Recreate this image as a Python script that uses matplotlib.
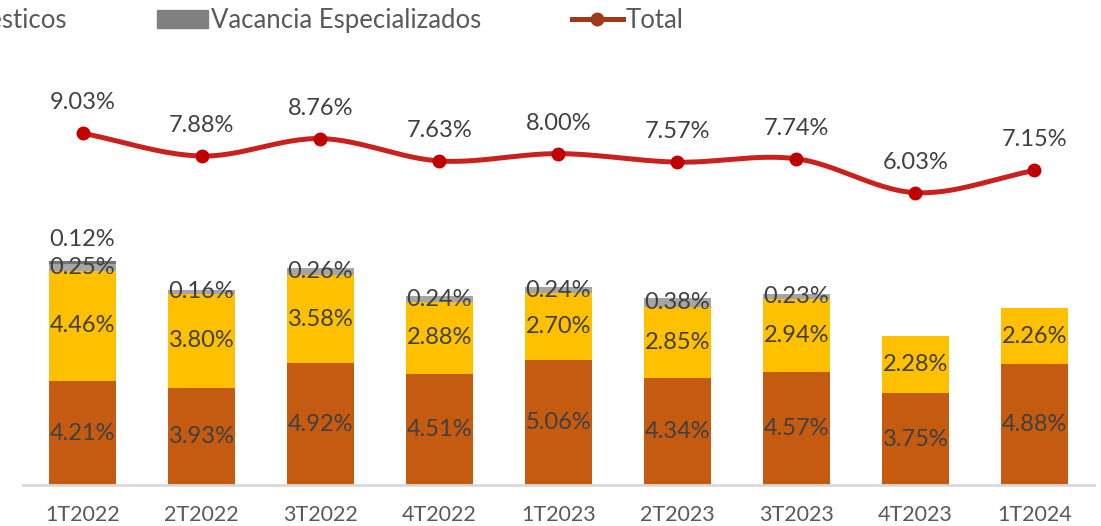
import numpy as np
import matplotlib
matplotlib.use("Agg")
from matplotlib import pyplot as plt
from matplotlib.patches import Patch
from matplotlib.lines import Line2D

plt.rcParams['font.family'] = ['Lato', 'DejaVu Sans']

cats = ["1T2022", "2T2022", "3T2022", "4T2022", "1T2023",
        "2T2023", "3T2023", "4T2023", "1T2024"]
orange = [4.21, 3.93, 4.92, 4.51, 5.06, 4.34, 4.57, 3.75, 4.88]
yellow = [4.46, 3.80, 3.58, 2.88, 2.70, 2.85, 2.94, 2.28, 2.26]
lgray = [0.25, 0.16, 0.26, 0.24, 0.24, 0.38, 0.23, 0.0, 0.0]
dgray = [0.12, 0, 0, 0, 0, 0, 0, 0, 0]
total = [9.03, 7.88, 8.76, 7.63, 8.00, 7.57, 7.74, 6.03, 7.15]

c_or = "#C55A11"
c_ye = "#FFC000"
c_lg = "#A5A5A5"
c_dg = "#737373"
c_red = "#C9211E"
lab_col = "#404040"
fs = 17


def smooth(xs, ys, n=30):
    # catmull-rom curve through the points (Excel "smoothed line")
    xs = np.asarray(xs, float)
    ys = np.asarray(ys, float)
    px = np.concatenate([[2 * xs[0] - xs[1]], xs, [2 * xs[-1] - xs[-2]]])
    py = np.concatenate([[2 * ys[0] - ys[1]], ys, [2 * ys[-1] - ys[-2]]])
    ox, oy = [], []
    for i in range(1, len(px) - 2):
        t = np.linspace(0, 1, n)
        for p, o in ((px, ox), (py, oy)):
            p0, p1, p2, p3 = p[i - 1], p[i], p[i + 1], p[i + 2]
            o.extend(0.5 * ((2 * p1) + (-p0 + p2) * t +
                            (2 * p0 - 5 * p1 + 4 * p2 - p3) * t ** 2 +
                            (-p0 + 3 * p1 - 3 * p2 + p3) * t ** 3))
    return np.array(ox), np.array(oy)


fig = plt.figure(figsize=(11.01, 5.26), dpi=100)
ax = fig.add_axes([0.0209, 0.077, 0.9727, 0.8184])
x = np.arange(len(cats))
w = 0.563

b1 = np.array(orange)
b2 = b1 + np.array(yellow)
b3 = b2 + np.array(lgray)
ax.bar(x, orange, w, color=c_or, zorder=2)
ax.bar(x, yellow, w, bottom=b1, color=c_ye, zorder=2)
ax.bar(x, lgray, w, bottom=b2, color=c_lg, zorder=2)
ax.bar(x, dgray, w, bottom=b3, color=c_dg, zorder=2)

for i in x:
    ax.text(i, orange[i] / 2, f"{orange[i]:.2f}%", ha="center", va="center",
            fontsize=fs, color=lab_col, zorder=3)
    ax.text(i, b1[i] + yellow[i] / 2, f"{yellow[i]:.2f}%", ha="center",
            va="center", fontsize=fs, color=lab_col, zorder=3)
    if lgray[i] > 0:
        ax.text(i, b2[i] + lgray[i] / 2, f"{lgray[i]:.2f}%", ha="center",
                va="center", fontsize=fs, color=lab_col, zorder=3)
    if dgray[i] > 0:
        ax.text(i, b3[i] + dgray[i] + 0.9, f"{dgray[i]:.2f}%", ha="center",
                va="center", fontsize=fs, color=lab_col, zorder=3)

ax.set_xlim(-0.5, len(cats) - 0.5)
ax.set_ylim(0, 17.36)
ax.set_xticks(x)
ax.set_xticklabels(cats, fontsize=15.5, color="#595959")
ax.tick_params(axis="x", length=0, pad=14)
ax.set_yticks([])
for s in ["top", "right", "left"]:
    ax.spines[s].set_visible(False)
ax.spines["bottom"].set_color("#D9D9D9")
ax.spines["bottom"].set_linewidth(2)

ax2 = ax.twinx()
sx, sy = smooth(x, total)
ax2.plot(sx, sy, color=c_red, lw=3.6, solid_capstyle="round", zorder=4)
ax2.plot(x, total, "o", color="#C00000", ms=9, zorder=5)
for i in x:
    ax2.annotate(f"{total[i]:.2f}%", (i, total[i]), xytext=(0, 22),
                 textcoords="offset points", ha="center", va="center",
                 fontsize=fs, color=lab_col)
ax2.set_ylim(-8.76, 12.98)
ax2.set_yticks([])
for s in ["top", "right", "left", "bottom"]:
    ax2.spines[s].set_visible(False)

handles = [Patch(color=c_lg, label="Vacancia Domésticos"),
           Patch(color="#808080", label="Vacancia Especializados"),
           Line2D([], [], color="#A0391A", lw=3.6, marker="o", ms=9,
                  label="Total")]
fig.legend(handles=handles, loc="upper left", bbox_to_anchor=(-0.229, 1.029),
           ncol=3, frameon=False, fontsize=18.5, handlelength=2.0,
           handletextpad=0.12, columnspacing=3.5, labelcolor="#595959")

fig.savefig("out.png", dpi=100)
